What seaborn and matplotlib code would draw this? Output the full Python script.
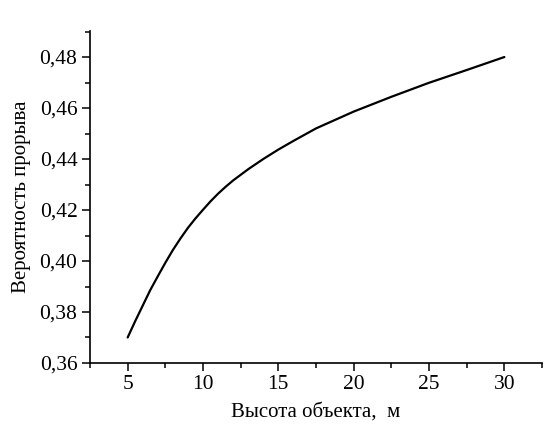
import matplotlib
matplotlib.use("Agg")
import matplotlib.pyplot as plt
import seaborn as sns
import pandas as pd
from matplotlib.ticker import MultipleLocator, FuncFormatter

height_m = [5, 5.5, 6, 6.5, 7, 7.5, 8, 8.5, 9, 9.5, 10, 10.5, 11, 11.5, 12, 13, 14, 15,
            16, 17.5, 20, 22.5, 25, 27.5, 30]
probability = [0.370, 0.3764, 0.3825, 0.3886, 0.3940, 0.3993, 0.4043, 0.4088,
               0.4130, 0.4167, 0.4201, 0.4234, 0.4264, 0.4291, 0.4316, 0.4360, 0.4400, 0.4437,
               0.4471, 0.4520, 0.4586, 0.4644, 0.4699, 0.4749, 0.480]
x_label = "Высота объекта,  м"
y_label = "Вероятность прорыва"

sns.set_theme(style="ticks")
plt.rcParams['font.family'] = ['Liberation Serif', 'DejaVu Serif']

df = pd.DataFrame({"h": height_m, "p": probability})

fig = plt.figure(figsize=(5.5, 4.25), dpi=100)
ax = fig.add_axes([0.1636, 0.1459, 0.8219, 0.7811])
sns.lineplot(data=df, x="h", y="p", ax=ax, color="black", linewidth=1.6)

ax.set_xlim(2.5, 32.5)
ax.set_ylim(0.36, 0.4902)
ax.xaxis.set_major_locator(MultipleLocator(5))
ax.xaxis.set_minor_locator(MultipleLocator(2.5))
ax.yaxis.set_major_locator(MultipleLocator(0.02))
ax.yaxis.set_minor_locator(MultipleLocator(0.01))
ax.yaxis.set_major_formatter(FuncFormatter(lambda v, p: f"{v:.2f}".replace(".", ",")))
ax.xaxis.set_major_formatter(FuncFormatter(lambda v, p: f"{v:g}"))

for s in ["top", "right"]:
    ax.spines[s].set_visible(False)
for s in ["left", "bottom"]:
    ax.spines[s].set_color("black")
    ax.spines[s].set_linewidth(1.2)

ax.tick_params(axis="both", which="major", direction="out", length=6, width=1.1,
               labelsize=15.5, color="black", labelcolor="black", pad=3)
ax.tick_params(axis="both", which="minor", direction="out", length=3.5, width=1.1, color="black")

ax.set_xlabel(x_label, fontsize=15, color="black", labelpad=6)
ax.set_ylabel(y_label, fontsize=15, color="black", labelpad=6)

fig.savefig("out.png", dpi=100, facecolor="white")
